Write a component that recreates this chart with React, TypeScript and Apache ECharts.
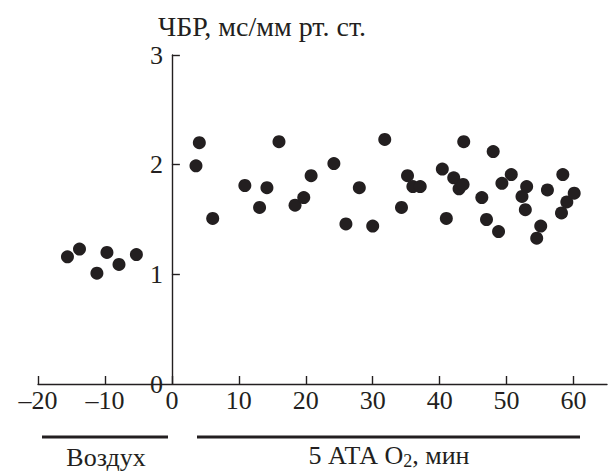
import React, { useEffect, useRef } from "react";
import * as echarts from "echarts";

const airX = [-15.6, -13.8, -11.2, -9.7, -7.9, -5.3];
const airY = [1.16, 1.23, 1.01, 1.2, 1.09, 1.18];

const o2X = [3.6, 4.1, 6.1, 10.9, 13.1, 14.2, 16.0, 18.4, 19.7, 20.8, 24.2, 26.0, 28.0, 30.0, 31.8, 34.3, 35.2, 36.0, 37.1, 40.4, 41.0, 42.1, 42.9, 43.5, 43.6, 46.3, 47.0, 48.0, 48.8, 49.3, 50.7, 52.3, 52.8, 53.0, 54.5, 55.1, 56.1, 58.2, 58.4, 59.0, 60.1];
const o2Y = [1.99, 2.2, 1.51, 1.81, 1.61, 1.79, 2.21, 1.63, 1.7, 1.9, 2.01, 1.46, 1.79, 1.44, 2.23, 1.61, 1.9, 1.8, 1.8, 1.96, 1.51, 1.88, 1.78, 1.82, 2.21, 1.7, 1.5, 2.12, 1.39, 1.83, 1.91, 1.71, 1.59, 1.8, 1.33, 1.44, 1.77, 1.56, 1.91, 1.66, 1.74];

const xTicks = [-20, -10, 0, 10, 20, 30, 40, 50, 60];
const yTicks = [0, 1, 2, 3];
const X_MIN = -20;
const X_MAX = 65;

const yTitle = "ЧБР, мс/мм рт. ст.";
const airLabel = "Воздух";

const INK = "#231f20";
const FONT = "Liberation Serif";

const W = 611;
const H = 472;
const GRID = { left: 38, right: 4, top: 55, bottom: 88 };

export default function App() {
  const ref = useRef<HTMLDivElement>(null);
  useEffect(() => {
    if (!ref.current) return;
    const chart = echarts.init(ref.current, undefined, { renderer: "svg" });
    const toPairs = (xs: number[], ys: number[]) => xs.map((x, i) => [x, ys[i]]);
    const gridW = W - GRID.left - GRID.right;
    const yAxisOffset = -(gridW * (0 - X_MIN)) / (X_MAX - X_MIN);
    chart.setOption({
      animation: false,
      backgroundColor: "#ffffff",
      title: {
        text: yTitle,
        left: 153,
        top: 7,
        textStyle: { fontFamily: FONT, fontSize: 28, fontWeight: "normal", color: INK },
      },
      grid: { ...GRID, containLabel: false },
      xAxis: {
        type: "value",
        min: X_MIN,
        max: X_MAX,
        interval: 10,
        splitLine: { show: false },
        axisLine: { show: true, onZero: false, lineStyle: { color: INK, width: 1.4 } },
        axisTick: { show: true, inside: true, length: 8, customValues: xTicks, lineStyle: { color: INK, width: 1.4 } },
        axisLabel: {
          customValues: xTicks,
          margin: 3,
          fontFamily: FONT,
          fontSize: 26,
          color: INK,
          formatter: (v: number) => (v < 0 ? "\u2013" + Math.abs(v) : String(v)),
        },
      },
      yAxis: {
        type: "value",
        min: 0,
        max: 3,
        interval: 1,
        offset: yAxisOffset,
        splitLine: { show: false },
        axisLine: { show: true, onZero: false, lineStyle: { color: INK, width: 1.4 } },
        axisTick: { show: true, inside: true, length: 8, customValues: yTicks.slice(1), lineStyle: { color: INK, width: 1.4 } },
        axisLabel: {
          customValues: yTicks,
          margin: 9,
          fontFamily: FONT,
          fontSize: 26,
          color: INK,
        },
      },
      graphic: [
        { type: "line", shape: { x1: 42, y1: 437, x2: 168, y2: 437 }, style: { stroke: INK, lineWidth: 3 } },
        { type: "line", shape: { x1: 197, y1: 437, x2: 580, y2: 437 }, style: { stroke: INK, lineWidth: 3 } },
        {
          type: "text",
          x: 106,
          y: 457,
          style: { text: airLabel, fontFamily: FONT, fontSize: 26, fill: INK, align: "center", verticalAlign: "middle" },
        },
        {
          type: "text",
          x: 389,
          y: 455,
          style: {
            text: "{n|5 АТА O}{s|2}{n|, мин}",
            align: "center",
            verticalAlign: "middle",
            rich: {
              n: { fontFamily: FONT, fontSize: 26, lineHeight: 26, verticalAlign: "top", fill: INK, color: INK },
              s: { fontFamily: FONT, fontSize: 18, lineHeight: 18, verticalAlign: "top", fill: INK, color: INK, padding: [10, 0, 0, 0] },
            },
          },
        },
      ],
      series: [
        {
          type: "scatter",
          name: "air",
          symbol: "circle",
          symbolSize: 13,
          itemStyle: { color: INK, opacity: 1 },
          data: toPairs(airX, airY),
        },
        {
          type: "scatter",
          name: "o2",
          symbol: "circle",
          symbolSize: 13,
          itemStyle: { color: INK, opacity: 1 },
          data: toPairs(o2X, o2Y),
        },
      ],
    });
    return () => chart.dispose();
  }, []);
  return <div ref={ref} style={{ position: "absolute", left: 0, top: 0, width: W, height: H }} />;
}
